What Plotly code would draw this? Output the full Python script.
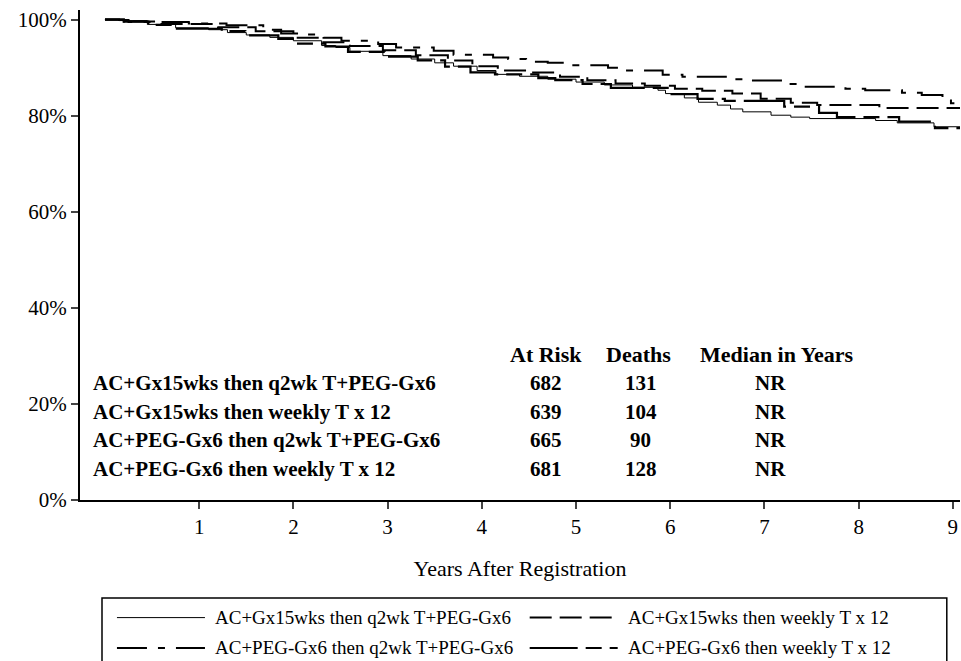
import plotly.graph_objects as go

# ---- data ----
names = ["AC+Gx15wks then q2wk T+PEG-Gx6", "AC+Gx15wks then weekly T x 12",
         "AC+PEG-Gx6 then q2wk T+PEG-Gx6", "AC+PEG-Gx6 then weekly T x 12"]

t1 = [0, 0.15, 0.45, 0.75, 1.1, 1.3, 1.5, 1.75, 2.0, 2.3, 2.45, 2.6, 2.95, 3.25, 3.5, 3.7, 3.95, 4.15, 4.4,
      4.7, 5.0, 5.3, 5.6, 5.87, 5.95, 6.15, 6.3, 6.5, 6.64, 6.77, 7.07, 7.28, 7.48, 8.18, 8.41, 8.8, 9.08]
s1 = [100, 99.8, 99.0, 98.3, 97.9, 97.3, 96.8, 96.3, 95.6, 94.6, 94.2, 93.4, 92.5, 91.8, 91.0, 90.3, 89.4, 88.6, 88.2,
      87.6, 87.0, 86.4, 85.9, 85.3, 84.6, 83.7, 82.8, 82.2, 81.4, 80.8, 80.1, 79.7, 79.4, 79.0, 78.5, 77.7, 77.7]

t2 = [0, 0.2, 0.6, 1.2, 1.6, 2.0, 2.3, 2.6, 2.95, 3.3, 3.64, 3.9, 4.17, 4.51, 4.83, 5.12, 5.42, 5.73, 6.05,
      6.34, 6.66, 6.96, 7.28, 7.56, 8.22, 9.08]
s2 = [100, 99.6, 99.1, 98.4, 97.6, 96.2, 95.3, 94.5, 93.6, 92.6, 91.5, 90.3, 89.4, 89.0, 88.1, 87.4, 86.7, 86.25, 85.6,
      85.2, 84.6, 83.5, 82.7, 82.2, 81.6, 81.6]

t3 = [0, 0.15, 0.25, 0.89, 1.29, 1.68, 1.87, 2.05, 2.32, 2.51, 2.9, 3.09, 3.49, 3.7, 4.12, 4.28, 4.47, 4.7, 4.91,
      5.34, 5.53, 5.92, 6.13, 6.64, 6.82, 7.19, 7.4, 7.86, 8.07, 8.46, 8.67, 8.89, 8.98, 9.08]
s3 = [100, 99.9, 99.5, 99.2, 98.85, 97.9, 97.1, 96.9, 96.2, 95.6, 94.9, 94.2, 93.5, 92.7, 92.1, 91.8, 91.25, 91.0, 90.5,
      90.0, 89.4, 88.5, 88.1, 87.6, 87.3, 86.6, 86.0, 85.6, 85.3, 84.8, 84.3, 83.4, 82.6, 82.6]

t4 = [0, 0.2, 0.46, 0.75, 1.24, 1.49, 1.84, 2.05, 2.34, 2.58, 2.97, 3.32, 3.61, 3.88, 4.14, 4.6, 4.78, 5.07, 5.37,
      6.0, 6.29, 6.58, 7.21, 7.58, 7.77, 8.43, 8.81, 9.08]
s4 = [100, 99.6, 98.9, 98.1, 97.6, 96.7, 96.0, 95.0, 94.4, 93.3, 92.3, 91.5, 90.2, 89.0, 88.6, 87.8, 87.4, 86.6, 85.8,
      84.5, 83.5, 83.1, 81.9, 80.6, 79.7, 78.75, 77.4, 77.4]

at_risk = [682, 639, 665, 681]
deaths = [131, 104, 90, 128]
median = ["NR", "NR", "NR", "NR"]
header = ["At Risk", "Deaths", "Median in Years"]

x_ticks = [1, 2, 3, 4, 5, 6, 7, 8, 9]
y_ticks = [0, 20, 40, 60, 80, 100]
y_ticktext = ["0%", "20%", "40%", "60%", "80%", "100%"]

# ---- styles ----
serif = "Liberation Serif, Times New Roman, serif"
styles = [dict(width=1, dash="solid"),
          dict(width=2, dash="22px,8px"),
          dict(width=2, dash="30px,11px,7px,11px"),
          dict(width=2.2, dash="48px,8px,16px,8px")]

fig = go.Figure()
for t, s, nm, st in zip([t1, t2, t3, t4], [s1, s2, s3, s4], names, styles):
    fig.add_trace(go.Scatter(x=t, y=s, mode="lines", name=nm, line_shape="hv",
                             line=dict(color="black", width=st["width"], dash=st["dash"]),
                             showlegend=False))

# ---- table ----
row_y = [24.3, 18.4, 12.4, 6.4]
head_y = 30.3
col_x = [4.68, 5.685, 7.065]
head_x = [4.68, 5.665, 7.135]
tfont = dict(family=serif, size=21, color="black")
for hx, h in zip(head_x, header):
    fig.add_annotation(x=hx, y=head_y, xref="x", yref="y", text="<b>%s</b>" % h, showarrow=False,
                       yanchor="middle", font=dict(family=serif, size=22, color="black"))
for i in range(4):
    fig.add_annotation(x=-0.15, y=row_y[i], xref="x", yref="y", text="<b>%s</b>" % names[i],
                       showarrow=False, xanchor="left", yanchor="middle", font=tfont)
    for cx, v in zip(col_x, [at_risk[i], deaths[i], median[i]]):
        fig.add_annotation(x=cx, y=row_y[i], xref="x", yref="y", text="<b>%s</b>" % v,
                           showarrow=False, yanchor="middle", font=tfont)

# ---- custom legend ----
lfont = dict(family=serif, size=19, color="black")
fig.add_shape(type="rect", xref="paper", yref="paper", x0=0.025, x1=0.985, y0=-0.36, y1=-0.200,
              line=dict(color="black", width=1.5))
leg_pos = [(0.042, -0.240), (0.511, -0.240), (0.042, -0.302), (0.511, -0.302)]
for (lx, ly), nm, st in zip(leg_pos, names, styles):
    fig.add_shape(type="line", xref="paper", yref="paper", x0=lx, x1=lx + 0.10, y0=ly, y1=ly,
                  line=dict(color="black", width=st["width"], dash=st["dash"]))
    fig.add_annotation(x=lx + 0.109, y=ly, xref="paper", yref="paper", text=nm, showarrow=False,
                       xanchor="left", yanchor="middle", font=lfont)

fig.update_layout(
    width=961, height=661,
    margin=dict(l=80, r=1, t=10, b=161),
    plot_bgcolor="white", paper_bgcolor="white",
    font=dict(family=serif, color="black", size=21),
    xaxis=dict(range=[-0.265, 9.076], tickvals=x_ticks, ticks="outside", ticklen=7, tickwidth=1.5,
               showline=True, linewidth=2, linecolor="black", showgrid=False, zeroline=False,
               tickfont=dict(family=serif, size=21),
               title=dict(text="Years After Registration", font=dict(family=serif, size=22), standoff=22)),
    yaxis=dict(range=[0, 102], tickvals=y_ticks, ticktext=y_ticktext, ticks="outside", ticklen=7,
               tickwidth=1.5, showline=True, linewidth=2, linecolor="black", showgrid=False,
               zeroline=False, tickfont=dict(family=serif, size=21)),
)

fig.write_html("out.html", config={"displayModeBar": False},
               post_script="document.body.style.margin='0';document.body.style.padding='0';")
